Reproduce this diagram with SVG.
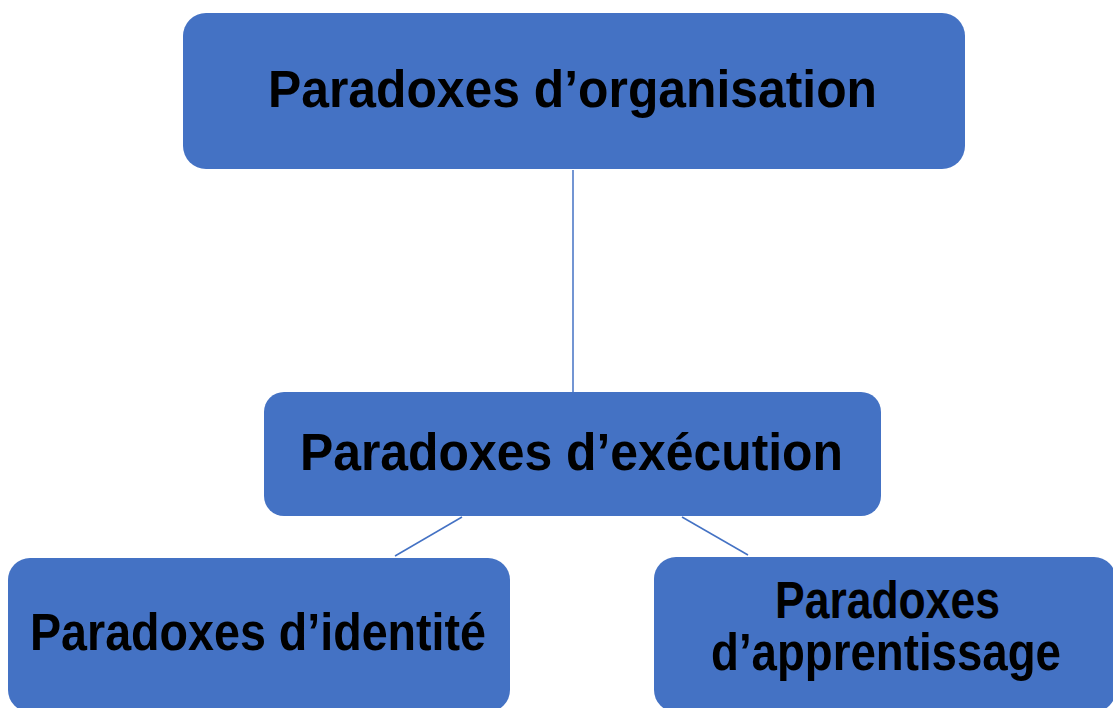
<svg xmlns="http://www.w3.org/2000/svg" width="1113" height="708" viewBox="0 0 1113 708">
<style>
.box{fill:#4472C4;}
.lbl{font-family:"Liberation Sans",Arial,sans-serif;font-weight:bold;font-size:51px;fill:#000;}
.conn{stroke:#4472C4;stroke-width:1.5;fill:none;}
</style>
<rect width="1113" height="708" fill="#fff"/>
<g id="connectors">
<line class="conn" x1="573" y1="170" x2="573" y2="392"/>
<line class="conn" x1="462" y1="517" x2="395" y2="556"/>
<line class="conn" x1="682" y1="517" x2="748" y2="555"/>
</g>
<g id="node-organisation">
<rect class="box" x="183" y="13" width="782" height="156" rx="23"/>
<text class="lbl" x="268" y="107" textLength="609" lengthAdjust="spacingAndGlyphs">Paradoxes d’organisation</text>
</g>
<g id="node-execution">
<rect class="box" x="264" y="392" width="617" height="124" rx="20"/>
<text class="lbl" x="300" y="470" textLength="543" lengthAdjust="spacingAndGlyphs">Paradoxes d’exécution</text>
</g>
<g id="node-identite">
<rect class="box" x="8" y="558" width="502" height="154" rx="22"/>
<text class="lbl" x="30" y="650" textLength="456" lengthAdjust="spacingAndGlyphs">Paradoxes d’identité</text>
</g>
<g id="node-apprentissage">
<rect class="box" x="654" y="557" width="462" height="155" rx="22"/>
<text class="lbl" x="775" y="618" textLength="225" lengthAdjust="spacingAndGlyphs">Paradoxes</text>
<text class="lbl" x="711" y="670" textLength="350" lengthAdjust="spacingAndGlyphs">d’apprentissage</text>
</g>
</svg>
